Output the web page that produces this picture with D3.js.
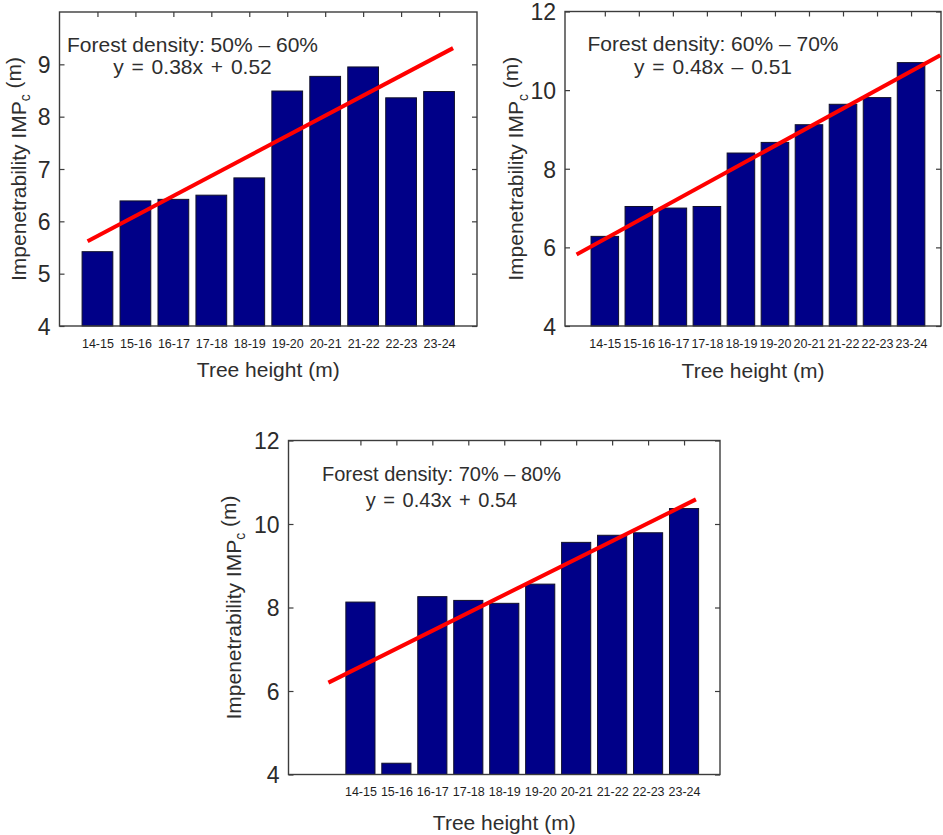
<!DOCTYPE html>
<html>
<head>
<meta charset="utf-8">
<script src="https://cdn.jsdelivr.net/npm/d3@7"></script>
<style>
    body { margin: 0; background: #fff; }
    svg { display: block; }
    .tick text { fill: #2b2b2b; }
</style>
</head>
<body>
<svg id="chart" width="943" height="835"></svg>
<script>
// tree height classes (x axis)
const categories = ['14-15', '15-16', '16-17', '17-18', '18-19', '19-20', '20-21', '21-22', '22-23', '23-24'];

// impenetrability IMPc (m) per forest density class
const imp5060 = [5.42, 6.39, 6.42, 6.50, 6.83, 8.49, 8.77, 8.95, 8.36, 8.48];
const imp6070 = [6.28, 7.04, 7.00, 7.04, 8.40, 8.67, 9.12, 9.64, 9.81, 10.70];
const imp7080 = [8.13, 4.27, 8.26, 8.17, 8.10, 8.56, 9.56, 9.73, 9.79, 10.37];

// regression line ends (bar index units, m)
const fitX5060 = [0.74, 10.37];
const fitY5060 = [5.62, 9.31];
const fitX6070 = [0.17, 10.86];
const fitY6070 = [5.82, 10.89];
const fitX7080 = [0.11, 10.33];
const fitY7080 = [6.20, 10.59];

// tick labels
const yTicks5060 = [4, 5, 6, 7, 8, 9];
const yTicks6070 = [4, 6, 8, 10, 12];
const yTicks7080 = [4, 6, 8, 10, 12];

const titles = ['Forest density: 50% \u2013 60%', 'Forest density: 60% \u2013 70%', 'Forest density: 70% \u2013 80%'];
const equations = ['y = 0.38x + 0.52', 'y = 0.48x \u2013 0.51', 'y = 0.43x + 0.54'];

const xLabel = 'Tree height (m)';

const panels = [
    { values: imp5060, fitX: fitX5060, fitY: fitY5060, yTicks: yTicks5060, yDomain: [4, 10], xDomain: [0, 11],
      box: { l: 59.5, r: 477, t: 12, b: 326 }, note: { dx: 133, y1: 40, y2: 62, size: 21 }, yTitleDx: -41, xTitleDy: 51 },
    { values: imp6070, fitX: fitX6070, fitY: fitY6070, yTicks: yTicks6070, yDomain: [4, 12], xDomain: [-0.17, 10.88],
      box: { l: 565, r: 941, t: 11.5, b: 326 }, note: { dx: 148, y1: 39, y2: 62, size: 21 }, yTitleDx: -49, xTitleDy: 52 },
    { values: imp7080, fitX: fitX7080, fitY: fitY7080, yTicks: yTicks7080, yDomain: [4, 12], xDomain: [-1, 11],
      box: { l: 288.5, r: 720, t: 440.5, b: 774.5 }, note: { dx: 153, y1: 40, y2: 66, size: 20 }, yTitleDx: -55, xTitleDy: 55 }
];

const svg = d3.select('#chart');
const textColor = '#2e2e2e';
const axisColor = '#3c3c3c';
const tickFont = '"Liberation Sans Narrow", "Liberation Sans", Arial, sans-serif';
const labelFont = '"Liberation Sans", Arial, sans-serif';

panels.forEach(function(p, idx) {
    const b = p.box;
    const w = b.r - b.l;
    const h = b.b - b.t;

    var g = svg.append('g')
        .attr('transform', `translate(${b.l},${b.t})`);

    var x = d3.scaleLinear()
        .domain(p.xDomain)
        .range([0, w]);

    var y = d3.scaleLinear()
        .domain(p.yDomain)
        .range([h, 0]);

    var barIdx = d3.range(1, categories.length + 1);
    var step = x(2) - x(1);
    var barW = step * 0.81;

    // left axis with labels, inward ticks
    var gY = g.append('g')
        .call(d3.axisLeft(y).tickValues(p.yTicks).tickSize(-5).tickPadding(9).tickFormat(d3.format('d')));
    gY.selectAll('text')
        .style('font-family', tickFont)
        .style('font-size', '23px')
        .attr('dy', '0.36em');

    // right axis, ticks only
    g.append('g')
        .attr('transform', `translate(${w},0)`)
        .call(d3.axisRight(y).tickValues(p.yTicks).tickSize(-5).tickFormat(''));

    // top axis, ticks at bars
    g.append('g')
        .call(d3.axisTop(x).tickValues(barIdx).tickSize(-5).tickFormat(''));

    // bottom axis with category labels
    var gX = g.append('g')
        .attr('transform', `translate(0,${h})`)
        .call(d3.axisBottom(x).tickValues(barIdx).tickSize(0).tickPadding(13)
            .tickFormat(function(d) { return categories[d - 1]; }));
    gX.selectAll('text')
        .style('font-family', labelFont)
        .style('font-size', '12.5px')
        .style('fill', '#1e1e1e');

    g.selectAll('.domain').remove();
    g.selectAll('.tick line')
        .attr('stroke', axisColor)
        .attr('stroke-width', 1.2);

    // bars
    g.selectAll('.bar')
        .data(p.values)
        .enter().append('rect')
        .attr('class', 'bar')
        .attr('x', function(d, i) { return x(i + 1) - barW / 2; })
        .attr('width', barW)
        .attr('y', function(d) { return y(d); })
        .attr('height', function(d) { return h - y(d); })
        .attr('fill', '#000088')
        .attr('stroke', '#10102a')
        .attr('stroke-width', 1);

    // box
    g.append('rect')
        .attr('width', w)
        .attr('height', h)
        .attr('fill', 'none')
        .attr('stroke', axisColor)
        .attr('stroke-width', 1.4);

    // regression line
    var fit = p.fitX.map(function(v, i) { return [v, p.fitY[i]]; });
    g.append('path')
        .datum(fit)
        .attr('d', d3.line().x(function(d) { return x(d[0]); }).y(function(d) { return y(d[1]); }))
        .attr('fill', 'none')
        .attr('stroke', '#ff0000')
        .attr('stroke-width', 4);

    // annotation
    var note = g.append('g')
        .attr('fill', textColor)
        .style('font-family', labelFont)
        .style('font-size', p.note.size + 'px')
        .attr('text-anchor', 'middle');
    note.append('text')
        .attr('x', p.note.dx)
        .attr('y', p.note.y1)
        .text(titles[idx]);
    note.append('text')
        .attr('x', p.note.dx)
        .attr('y', p.note.y2)
        .attr('word-spacing', '2px')
        .text(equations[idx]);

    // axis titles
    g.append('text')
        .attr('x', w / 2)
        .attr('y', h + p.xTitleDy)
        .attr('text-anchor', 'middle')
        .attr('fill', textColor)
        .style('font-family', labelFont)
        .style('font-size', '21px')
        .text(xLabel);

    var yt = g.append('text')
        .attr('transform', `translate(${p.yTitleDx},${h / 2}) rotate(-90)`)
        .attr('text-anchor', 'middle')
        .attr('dy', '0.35em')
        .attr('fill', textColor)
        .style('font-family', labelFont)
        .style('font-size', '21px');
    yt.append('tspan').text('Impenetrability IMP');
    yt.append('tspan').attr('dy', '0.3em').style('font-size', '14px').text('c');
    yt.append('tspan').attr('dy', '-0.45em').text(' (m)');
});
</script>
</body>
</html>
